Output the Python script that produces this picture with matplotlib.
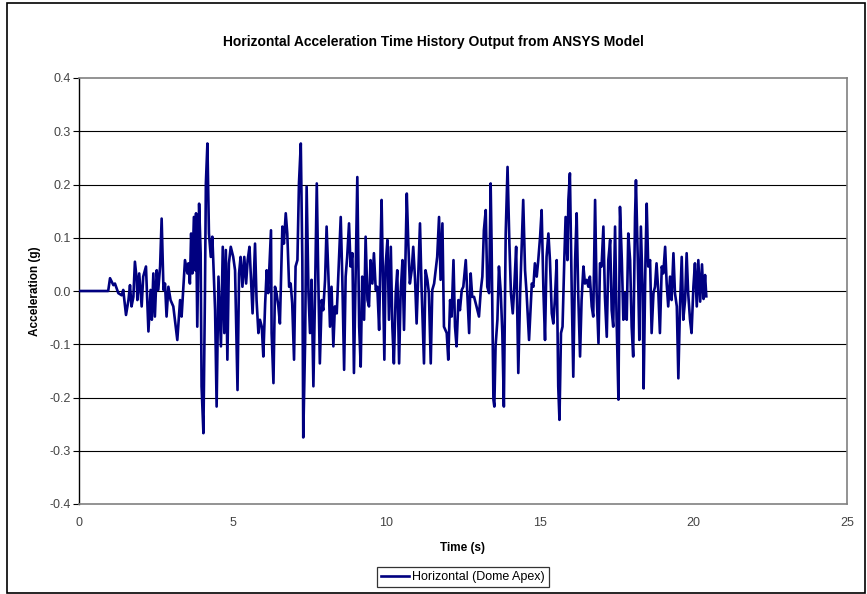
import matplotlib
matplotlib.use("Agg")
import matplotlib.pyplot as plt
from matplotlib.patches import Rectangle

plt.rcParams["font.family"] = ["Liberation Sans", "DejaVu Sans"]
plt.rcParams["axes.unicode_minus"] = False
NARROW = ["Liberation Sans Narrow", "Liberation Sans", "DejaVu Sans"]

# ---- digitised extrema of the dome-apex horizontal acceleration (s, g) ----
time_s = [
    0.00, 0.95, 1.01, 1.12, 1.17, 1.28, 1.39, 1.44, 1.53, 1.61, 1.66, 1.71, 1.77, 1.82, 1.88, 1.90,
    1.96, 2.04, 2.09, 2.18, 2.26, 2.33, 2.37, 2.42, 2.47, 2.53, 2.58, 2.64, 2.69, 2.75, 2.80, 2.85,
    2.91, 2.98, 3.07, 3.20, 3.29, 3.34, 3.45, 3.53,
    3.56, 3.61, 3.65, 3.69, 3.74, 3.78, 3.81, 3.85, 3.91, 3.96, 3.99, 4.05, 4.10, 4.13, 4.18, 4.23,
    4.29, 4.34, 4.37, 4.43, 4.48, 4.54, 4.62, 4.68, 4.73, 4.78, 4.83, 4.88, 4.94, 5.02, 5.08, 5.16,
    5.21, 5.26, 5.32, 5.38, 5.44, 5.49, 5.55, 5.60, 5.65, 5.73, 5.78, 5.84, 5.89, 5.95, 6.00, 6.06,
    6.11, 6.16, 6.25,
    6.27, 6.33, 6.38, 6.43, 6.49, 6.54, 6.62, 6.67, 6.73, 6.78, 6.84, 6.89, 6.94, 7.00, 7.05, 7.11,
    7.16, 7.22, 7.27, 7.30, 7.36, 7.41, 7.47, 7.52, 7.57, 7.63, 7.68, 7.74, 7.79, 7.84, 7.90, 7.95,
    8.01, 8.06, 8.12, 8.17, 8.22, 8.28, 8.33, 8.39, 8.44, 8.52, 8.57, 8.63, 8.68, 8.73, 8.79, 8.84,
    8.90, 8.95,
    9.06, 9.12, 9.17, 9.22, 9.28, 9.33, 9.39, 9.44, 9.49, 9.55, 9.60, 9.66, 9.71, 9.77, 9.82, 9.85,
    9.91, 9.94, 9.98, 10.04, 10.09, 10.15, 10.20, 10.25, 10.31, 10.36, 10.42, 10.47, 10.53, 10.58,
    10.67, 10.72, 10.77, 10.83, 10.88, 10.94, 10.99, 11.05, 11.10, 11.15, 11.23, 11.28, 11.34, 11.39,
    11.45, 11.50, 11.56, 11.61, 11.66, 11.72, 11.77, 11.83, 11.88,
    11.97, 12.02, 12.08, 12.13, 12.19, 12.24, 12.29, 12.35, 12.40, 12.46, 12.51, 12.59, 12.64, 12.70,
    12.75, 12.80, 12.86, 12.94, 13.02, 13.08, 13.13, 13.18, 13.24, 13.29, 13.35, 13.40, 13.43, 13.49,
    13.52, 13.56, 13.62, 13.67, 13.73, 13.78, 13.83, 13.89, 13.95, 14.01, 14.06, 14.12, 14.17, 14.23,
    14.30, 14.36, 14.41, 14.46, 14.52, 14.57, 14.65,
    14.74, 14.79, 14.84, 14.90, 14.95, 15.01, 15.06, 15.12, 15.17, 15.22, 15.28, 15.33, 15.39, 15.44,
    15.49, 15.55, 15.60, 15.64, 15.69, 15.74, 15.80, 15.84, 15.90, 15.93, 15.98, 16.04, 16.09, 16.15,
    16.20, 16.25, 16.31, 16.36, 16.42, 16.47, 16.53, 16.58, 16.63, 16.69, 16.74, 16.80, 16.85, 16.91,
    16.96, 17.01, 17.07, 17.12, 17.18, 17.23,
    17.29, 17.34, 17.39, 17.45, 17.50, 17.56, 17.61, 17.67, 17.72, 17.77, 17.83, 17.88, 17.94, 17.99,
    18.04, 18.10, 18.13, 18.19, 18.24, 18.29, 18.35, 18.38, 18.44, 18.48, 18.53, 18.59, 18.64, 18.70,
    18.75, 18.80, 18.86, 18.91, 18.97, 19.02, 19.08, 19.13, 19.18, 19.24, 19.29, 19.35, 19.40, 19.46,
    19.51, 19.56, 19.62, 19.67, 19.73, 19.78, 19.83, 19.89, 19.94, 20.00, 20.05, 20.11, 20.16, 20.22,
    20.28, 20.33, 20.38, 20.42,
]
accel_g = [
    0.000, 0.000, 0.024, 0.011, 0.014, -0.004, -0.008, 0.002, -0.045, -0.017, 0.011, -0.029, -0.011, 0.055, 0.021, -0.017,
    0.033, -0.029, 0.027, 0.046, -0.076, 0.002, -0.054, 0.033, -0.048, 0.039, 0.002, 0.046, 0.136, 0.002, 0.014, -0.048,
    0.008, -0.017, -0.029, -0.092, -0.017, -0.048, 0.058, 0.033,
    0.052, 0.014, 0.108, 0.033, 0.139, 0.039, 0.146, -0.067, 0.164, 0.071, -0.179, -0.267, -0.004, 0.202, 0.277, 0.108,
    0.064, 0.102, 0.058, -0.036, -0.217, 0.027, -0.104, 0.083, -0.079, 0.077, -0.129, 0.052, 0.083, 0.064, 0.039, -0.186,
    0.033, 0.064, 0.008, 0.064, 0.014, 0.058, 0.083, 0.021, -0.042, 0.089, -0.017, -0.079, -0.054, -0.067, -0.123, -0.023,
    0.039, -0.004, 0.114,
    -0.079, -0.173, 0.008, -0.004, -0.029, -0.061, 0.121, 0.089, 0.146, 0.108, 0.008, 0.014, -0.023, -0.129, 0.046, 0.058,
    0.202, 0.277, 0.058, -0.275, -0.098, 0.196, -0.004, -0.079, 0.021, -0.179, -0.017, 0.202, 0.021, -0.136, -0.017, -0.036,
    0.021, 0.121, 0.027, -0.067, 0.008, -0.104, -0.029, -0.042, 0.027, 0.139, 0.027, -0.148, 0.027, 0.064, 0.127, 0.046,
    0.071, -0.154,
    0.214, -0.067, -0.142, 0.027, -0.054, 0.102, -0.017, -0.029, 0.058, 0.014, 0.071, 0.002, 0.008, -0.073, 0.089, 0.171,
    -0.023, -0.129, 0.046, 0.096, -0.054, 0.083, -0.067, -0.136, -0.004, 0.039, -0.136, -0.004, 0.058, -0.073,
    0.183, 0.089, 0.014, 0.039, 0.083, 0.021, -0.061, 0.039, 0.127, 0.008, -0.136, 0.039, 0.021, -0.004,
    -0.136, 0.002, 0.014, 0.039, 0.064, 0.139, 0.021, 0.127, -0.067,
    -0.079, -0.129, -0.017, -0.048, 0.058, -0.067, -0.104, -0.017, -0.036, 0.002, 0.008, 0.058, -0.004, -0.079,
    0.033, -0.011, -0.011, -0.029, -0.048, 0.002, 0.027, 0.114, 0.152, 0.008, -0.004, 0.202, 0.089, -0.204,
    -0.217, -0.104, -0.054, 0.046, -0.004, -0.079, -0.217, 0.108, 0.233, 0.089, -0.004, -0.042, 0.008, 0.083,
    -0.154, -0.004, 0.083, 0.171, 0.039, -0.004, -0.092,
    0.014, 0.008, 0.052, 0.027, 0.058, 0.102, 0.152, -0.004, -0.092, 0.064, 0.108, 0.058, -0.042, -0.061,
    -0.017, 0.058, -0.179, -0.242, -0.079, -0.067, 0.064, 0.139, 0.058, 0.171, 0.221, -0.004, -0.161, 0.058,
    0.146, -0.004, -0.123, -0.017, 0.046, 0.014, 0.021, 0.008, 0.027, -0.029, -0.048, 0.171, -0.004, -0.098,
    0.052, 0.046, 0.121, -0.011, -0.086, 0.058,
    0.096, -0.036, -0.067, 0.121, -0.054, -0.204, 0.158, 0.058, -0.054, -0.004, -0.054, 0.108, 0.058, -0.067,
    -0.123, 0.139, 0.208, 0.058, -0.092, 0.121, -0.004, -0.183, 0.058, 0.164, 0.046, 0.058, -0.079, -0.004,
    0.008, 0.052, -0.004, -0.079, 0.046, 0.033, 0.083, 0.014, -0.029, 0.027, -0.017, 0.071, -0.004, -0.029,
    -0.164, -0.036, 0.064, -0.054, -0.017, 0.071, -0.004, -0.054, -0.079, 0.008, 0.052, -0.029, 0.058, -0.020,
    0.050, -0.015, 0.030, -0.010,
]

x_ticks = [0, 5, 10, 15, 20, 25]
y_ticks = [-0.4, -0.3, -0.2, -0.1, 0.0, 0.1, 0.2, 0.3, 0.4]

W, H = 867, 594
fig = plt.figure(figsize=(W / 100, H / 100), dpi=100)
fig.patch.set_facecolor("white")
# chart-area border
fig.patches.append(Rectangle((7 / W, 1 - 593 / H), (865 - 7) / W, (593 - 3) / H,
                             transform=fig.transFigure, fill=False, edgecolor="black", lw=1.2))

ax = fig.add_axes([79 / W, 1 - 504 / H, (847 - 79) / W, (504 - 78) / H])
ax.plot(time_s, accel_g, color="#000080", lw=1.9, label="Horizontal (Dome Apex)", zorder=3)

ax.set_xlim(0, 25)
ax.set_ylim(-0.4, 0.4)
ax.set_xticks(x_ticks)
ax.set_yticks(y_ticks)
ax.set_yticklabels([f"{v:.1f}" for v in y_ticks])
ax.tick_params(axis="x", length=0, pad=9, labelsize=9, labelcolor="#444444")
ax.tick_params(axis="y", length=4, width=0.8, pad=2, labelsize=9, labelcolor="#444444", color="black")
for lbl in ax.get_xticklabels() + ax.get_yticklabels():
    lbl.set_family(NARROW)

for v in y_ticks[1:-1]:
    ax.axhline(v, color="black", lw=0.8, zorder=1)

for side in ("top", "right", "bottom"):
    ax.spines[side].set_color("#808080")
    ax.spines[side].set_linewidth(1.2)
ax.spines["left"].set_color("black")
ax.spines["left"].set_linewidth(1.0)

fig.text(0.5, 1 - 42 / H, "Horizontal Acceleration Time History Output from ANSYS Model",
         ha="center", va="center", fontsize=10, fontweight="bold")
fig.text(35 / W, 1 - 291 / H, "Acceleration (g)", rotation=90, ha="center", va="center",
         fontsize=8.5, fontweight="bold")
fig.text(463 / W, 1 - 548 / H, "Time (s)", ha="center", va="center", fontsize=8.5, fontweight="bold")

leg = ax.legend(loc="center", bbox_to_anchor=(463 / W, 1 - 577 / H), bbox_transform=fig.transFigure,
                frameon=True, fancybox=False, shadow=False, handlelength=2.2,
                handletextpad=0.3, borderpad=0.35, borderaxespad=0,
                prop={"family": NARROW, "size": 9})
leg.get_frame().set_edgecolor("black")
leg.get_frame().set_linewidth(0.9)

fig.savefig("out.png", dpi=100)
